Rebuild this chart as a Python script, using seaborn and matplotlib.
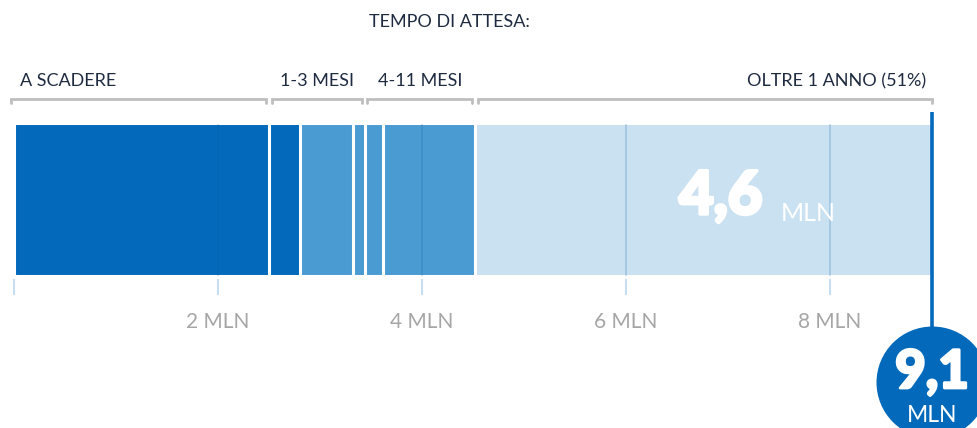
"""
Tempo di attesa: barra orizzontale a segmenti (milioni) con gruppi sopra
e totale nel cerchio a destra.
"""
import numpy as np
import matplotlib.pyplot as plt
import matplotlib.patheffects as pe
import seaborn as sns

# --- dati (milioni) ---
segmenti = [2.5, 0.3, 0.52, 0.12, 0.18, 0.9, 4.48]
colori = ["#0369BA", "#0369BA", "#4B9BD3", "#4B9BD3", "#4B9BD3", "#4B9BD3", "#C9E1F0"]
gruppi = ["A SCADERE", "1-3 MESI", "4-11 MESI", "OLTRE 1 ANNO (51%)"]
segmenti_per_gruppo = [1, 3, 2, 1]
tick_valori = [2, 4, 6, 8]
tick_etichette = ["2 MLN", "4 MLN", "6 MLN", "8 MLN"]
etichetta_ultimo = "4,6"
etichetta_totale = "9,1"
titolo = "TEMPO DI ATTESA:"

BLU = "#0369BA"
NAVY = "#1E2B40"
GRIGIO = "#A6A6A6"
GRIGIO_PARENTESI = "#BEBEBE"

sns.set_theme(style="white")
plt.rcParams["font.family"] = ["Lato", "DejaVu Sans"]

W, H = 978, 428
fig = plt.figure(figsize=(W / 100, H / 100), dpi=100)
ax = fig.add_axes([0, 0, 1, 1])


# asse y in "unita barra": la barra (spessore 0.8) e' alta ~153 px
def py(pix):
    return (pix - 199.7) / 190.9


cumulati = np.cumsum(segmenti)
totale = cumulati[-1]

# barre sovrapposte: dalla piu lunga alla piu corta (stacking)
for c, col in zip(cumulati[::-1], colori[::-1]):
    sns.barplot(x=[c], y=[0.0], orient="h", native_scale=True, color=col,
                saturation=1, width=0.8, edgecolor="white", linewidth=2.2,
                errorbar=None, ax=ax)

# griglia sopra la barra e tacche sotto
ax.vlines(tick_valori, py(124), py(276), color="#0A5FA8", alpha=0.22, lw=1.2, zorder=5)
ax.vlines([0] + tick_valori, py(279), py(295), color="#C8DDF0", lw=1.5, zorder=5)
for v, t in zip(tick_valori, tick_etichette):
    ax.text(v, py(322), t, ha="center", va="center", fontsize=15,
            color=GRIGIO)

# parentesi dei gruppi
fine = np.cumsum(segmenti_per_gruppo)
inizio = np.concatenate([[0], fine[:-1]])
bordi = np.concatenate([[0], cumulati])
allineamenti = ["left", "center", "center", "right"]
for nome, i0, i1, ha in zip(gruppi, inizio, fine, allineamenti):
    x0 = bordi[i0] - 0.03 if i0 == 0 else bordi[i0] + 0.025
    x1 = bordi[i1] if i1 == len(segmenti) else bordi[i1] - 0.025
    ax.plot([x0, x0, x1, x1], [py(103), py(98.5), py(98.5), py(103)],
            color=GRIGIO_PARENTESI, lw=2, solid_joinstyle="miter")
    if ha == "left":
        xt = x0 + 0.09
    elif ha == "right":
        xt = x1 - 0.06
    else:
        xt = (x0 + x1) / 2
    ax.text(xt, py(81.5), nome, ha=ha, va="center", fontsize=13, color=NAVY)

fig.text(449 / W, 1 - 22 / H, titolo, ha="center", va="center",
         fontsize=13, color=NAVY)

# valore dell'ultimo segmento dentro la barra
spesso = [pe.withStroke(linewidth=2.5, foreground="white")]
ax.text(7.34, py(214), etichetta_ultimo, ha="right", va="baseline",
        fontsize=43, fontweight="black", color="white", zorder=6,
        path_effects=spesso)
ax.text(7.52, py(221), "MLN", ha="left", va="baseline",
        fontsize=18, color="white", zorder=6)

# linea del totale e cerchio
ax.vlines(totale, py(112), py(335), color=BLU, lw=2.6, zorder=6)
sns.scatterplot(x=[totale], y=[py(382)], s=6500, color=BLU, linewidth=0,
                legend=False, ax=ax, zorder=7)
ax.text(totale, py(388), etichetta_totale, ha="center", va="baseline",
        fontsize=38, fontweight="black", color="white", zorder=8,
        path_effects=[pe.withStroke(linewidth=2, foreground="white")])
ax.text(totale, py(422), "MLN", ha="center", va="baseline",
        fontsize=16.5, color="white", zorder=8)

ax.set_xlim(-14 / 102, (W - 14) / 102)
ax.set_ylim(py(H), py(0))
ax.set_axis_off()

fig.savefig("out.png", dpi=100)
